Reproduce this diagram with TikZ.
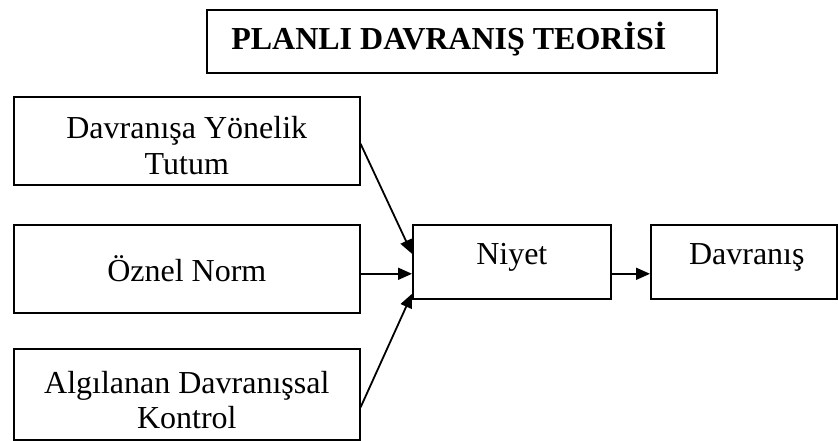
\documentclass[tikz,border=0pt]{standalone}
\usepackage{fontspec}
\setmainfont{Liberation Serif}
\usetikzlibrary{arrows.meta}
\begin{document}
\begin{tikzpicture}[x=1pt,y=-1pt,
  box/.style={draw=black,line width=1.6pt,rectangle,inner sep=0pt,anchor=north west},
  label/.style={align=center,inner sep=0pt,font=\fontsize{32}{35.5}\selectfont},
  conn/.style={line width=1.8pt,-{Triangle[length=14pt,width=12pt]}}]
\useasboundingbox (0,0) rectangle (838,441);
% title
\node[box,minimum width=510pt,minimum height=63pt] (title) at (206,9) {};
\node[label,font=\fontsize{32}{35}\selectfont\bfseries] at ([xshift=-13pt,yshift=2pt]title.center)
  {PLANLI DAVRANIŞ TEORİSİ};
% three determinants
\node[box,minimum width=346pt,minimum height=88pt] (tutum) at (13,96) {};
\node[label] at ([yshift=-5pt]tutum.center) {Davranışa Yönelik\\Tutum};
\node[box,minimum width=346pt,minimum height=88pt] (norm) at (13,224) {};
\node[label] at (norm.center) {Öznel Norm};
\node[box,minimum width=346pt,minimum height=91pt] (kontrol) at (13,348) {};
\node[label] at ([yshift=-6pt]kontrol.center) {Algılanan Davranışsal\\Kontrol};
% intention and behaviour
\node[box,minimum width=198pt,minimum height=74pt] (niyet) at (412,224) {};
\node[label] at ([yshift=4pt]niyet.center) {Niyet};
\node[box,minimum width=186pt,minimum height=74pt] (davranis) at (650,224) {};
\node[label] at ([xshift=3pt,yshift=4pt]davranis.center) {Davranış};
% connectors
\draw[conn] ([yshift=-3pt]tutum.east) -- ([yshift=8pt]niyet.west);
\draw[conn] ([yshift=-5pt]norm.east) -- ([yshift=-12pt]niyet.west);
\draw[conn] ([yshift=-13pt]kontrol.east) -- ([yshift=-32pt]niyet.west);
\draw[conn] ([yshift=-12pt]niyet.east) -- ([yshift=-12pt]davranis.west);
\end{tikzpicture}
\end{document}
